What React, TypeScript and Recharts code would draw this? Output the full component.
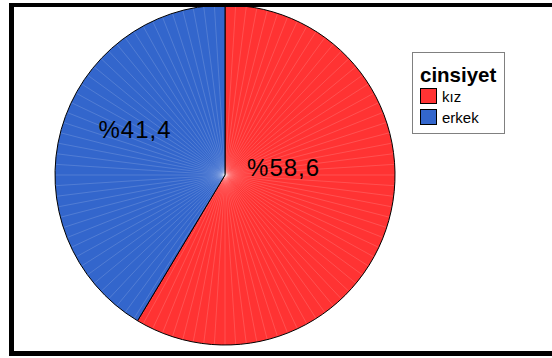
import React from 'react';
import { PieChart, Pie, Cell, Sector, Legend } from 'recharts';

const categories = ['kız', 'erkek'];
const percents = [58.6, 41.4];
const sliceLabels = ['%58,6', '%41,4'];
const colors = ['#FF3333', '#3366CC'];
const legendTitle = 'cinsiyet';

// label placement: radius and angle shift relative to the slice's mid angle
const labelRadius = [59, 101];
const labelAngleShift = [22.3, -11.5];

const data = categories.map((name, i) => ({ name, value: percents[i], label: sliceLabels[i] }));

const FONT = '"Liberation Sans", Arial, Helvetica, sans-serif';
const RAD = Math.PI / 180;

const RayShape = (props: any) => {
  const { cx, cy, outerRadius, startAngle, endAngle, fill } = props;
  const lo = Math.min(startAngle, endAngle);
  const hi = Math.max(startAngle, endAngle);
  const rays: React.ReactNode[] = [];
  const step = 3.6;
  for (let a = Math.ceil((lo + 0.5) / step) * step; a < hi - 0.5; a += step) {
    const x = cx + outerRadius * Math.cos(a * RAD);
    const y = cy - outerRadius * Math.sin(a * RAD);
    rays.push(
      <line key={a} x1={cx} y1={cy} x2={x} y2={y} stroke="rgba(255,255,255,0.25)" strokeWidth={0.6} />
    );
  }
  return (
    <g>
      <Sector {...props} fill={fill} stroke="none" />
      {rays}
      <Sector {...props} fill="none" stroke="#000" strokeWidth={1} />
    </g>
  );
};

const renderLabel = (props: any) => {
  const { cx, cy, midAngle, index } = props;
  const a = (midAngle + labelAngleShift[index]) * RAD;
  const r = labelRadius[index];
  const x = cx + r * Math.cos(a);
  const y = cy - r * Math.sin(a);
  return (
    <text
      x={x}
      y={y}
      textAnchor="middle"
      dominantBaseline="central"
      fill="#000"
      fontSize={24}
      letterSpacing={1}
      fontFamily={FONT}
    >
      {data[index].label}
    </text>
  );
};

const LegendBox = () => (
  <div
    style={{
      position: 'relative',
      width: 93,
      height: 82,
      boxSizing: 'border-box',
      border: '1.5px solid #808080',
      background: '#fff',
      fontFamily: FONT,
      color: '#000',
    }}
  >
    <div
      style={{
        position: 'absolute',
        left: 7,
        top: 12,
        fontSize: 20.5,
        fontWeight: 'bold',
        lineHeight: '20px',
        whiteSpace: 'nowrap',
      }}
    >
      {legendTitle}
    </div>
    {categories.map((c, i) => (
      <div key={c} style={{ position: 'absolute', left: 7, top: 35 + i * 21, display: 'flex', alignItems: 'flex-start' }}>
        <div
          style={{
            width: 17,
            height: 16,
            boxSizing: 'border-box',
            border: '1px solid #000',
            background: colors[i],
          }}
        />
        <div style={{ marginLeft: 5, fontSize: 15, lineHeight: '16px', marginTop: 1, whiteSpace: 'nowrap' }}>{c}</div>
      </div>
    ))}
  </div>
);

export default function App() {
  return (
    <div
      style={{
        position: 'absolute',
        left: 9,
        top: 3,
        width: 543,
        height: 353,
        boxSizing: 'border-box',
        borderLeft: '5px solid #000',
        borderTop: '4px solid #000',
        borderBottom: '5px solid #000',
        background: '#fff',
        overflow: 'hidden',
      }}
    >
      <PieChart width={538} height={344} margin={{ top: 0, right: 0, bottom: 0, left: 0 }}>
        <Pie
          data={data}
          dataKey="value"
          nameKey="name"
          cx={211}
          cy={168}
          outerRadius={170}
          startAngle={90}
          endAngle={-270}
          stroke="#000"
          strokeWidth={1}
          isAnimationActive={false}
          labelLine={false}
          label={renderLabel}
          shape={RayShape}
        >
          {data.map((d, i) => (
            <Cell key={d.name} fill={colors[i]} />
          ))}
        </Pie>
        <Legend
          content={() => <LegendBox />}
          wrapperStyle={{ position: 'absolute', left: 398, top: 45, width: 93, height: 82 }}
        />
      </PieChart>
    </div>
  );
}
